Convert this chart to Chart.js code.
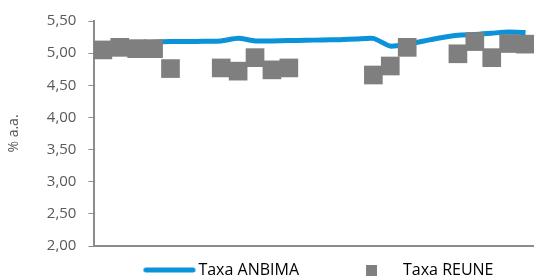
<!DOCTYPE html>
<html>
<head>
<meta charset="utf-8">
<script src="https://cdn.jsdelivr.net/npm/chart.js@4.4.1/dist/chart.umd.min.js"></script>
<style>
  html, body { margin: 0; padding: 0; background: #fff; overflow: hidden; }
  canvas { display: block; }
</style>
</head>
<body>
<canvas id="taxas" width="534" height="280"></canvas>
<script>
// categorias (uma por leilão / data)
const categories = ['1', '2', '3', '4', '5', '6', '7', '8', '9', '10', '11', '12', '13',
	'14', '15', '16', '17', '18', '19', '20', '21', '22', '23', '24', '25', '26'];

// Taxa ANBIMA (% a.a.)
const anbima = [5.14, 5.15, 5.15, 5.17, 5.18, 5.18, 5.185, 5.19, 5.23, 5.19, 5.19, 5.195, 5.20,
	5.205, 5.21, 5.22, 5.23, 5.11, 5.14, 5.19, 5.24, 5.28, 5.29, 5.31, 5.33, 5.32];

// Taxa REUNE (% a.a.) - null onde não houve negócio
const reune = [5.05, 5.09, 5.07, 5.07, 4.76, null, null, 4.77, 4.72, 4.93, 4.74, 4.77, null,
	null, null, null, 4.66, 4.80, 5.09, null, null, 4.99, 5.18, 4.93, 5.15, 5.14];

// eixo y
const yMin = 2.0;
const yMax = 5.5;
const yStep = 0.5;

const blue = '#0A93D8';
const gray = '#7F7F7F';
const textGray = '#595959';
const axisGray = '#8C8C8C';

Chart.defaults.font.family = "'Open Sans', 'DejaVu Sans', sans-serif";
Chart.defaults.color = textGray;

// icones da legenda (a caixa da legenda tem 94px de largura)
const lineIcon = document.createElement('canvas');
lineIcon.width = 110;
lineIcon.height = 6;
const lctx = lineIcon.getContext('2d');
lctx.strokeStyle = blue;
lctx.lineWidth = 5;
lctx.lineCap = 'round';
lctx.beginPath();
lctx.moveTo(57.5, 3);
lctx.lineTo(104.5, 3);
lctx.stroke();

const squareIcon = document.createElement('canvas');
squareIcon.width = 58;
squareIcon.height = 11;
const sctx = squareIcon.getContext('2d');
sctx.fillStyle = gray;
sctx.fillRect(47, 0, 11, 11);

const data = {
	labels: categories,
	datasets: [{
		label: 'Taxa ANBIMA',
		data: anbima,
		borderColor: blue,
		backgroundColor: blue,
		borderWidth: 5,
		pointRadius: 0,
		tension: 0.2,
		order: 2
	},
	{
		label: 'Taxa REUNE',
		data: reune,
		showLine: false,
		pointStyle: 'rect',
		pointRadius: 13.2,
		pointBackgroundColor: gray,
		pointBorderWidth: 0,
		borderColor: gray,
		backgroundColor: gray,
		clip: false,
		order: 1
	}]
};

const config = {
	type: 'line',
	data,
	options: {
		responsive: false,
		animation: false,
		devicePixelRatio: 1,
		layout: {
			autoPadding: false,
			padding: { top: 21, left: 6, right: 0, bottom: -8 }
		},
		plugins: {
			tooltip: { enabled: false },
			legend: {
				position: 'bottom',
				align: 'start',
				fullSize: false,
				labels: {
					usePointStyle: true,
					pointStyleWidth: 94,
					padding: 2,
					color: textGray,
					font: { size: 16 },
					generateLabels: function (chart) {
						return [{
							text: 'Taxa ANBIMA',
							pointStyle: lineIcon,
							strokeStyle: blue,
							fillStyle: blue,
							lineWidth: 0,
							datasetIndex: 0,
							hidden: false
						},
						{
							text: 'Taxa REUNE',
							pointStyle: squareIcon,
							strokeStyle: gray,
							fillStyle: gray,
							lineWidth: 0,
							datasetIndex: 1,
							hidden: false
						}];
					}
				}
			}
		},
		scales: {
			x: {
				offset: true,
				ticks: { display: false },
				grid: { display: false },
				border: { color: axisGray, width: 2 },
				afterFit: (scale) => { scale.height = 14; }
			},
			y: {
				min: yMin,
				max: yMax,
				ticks: {
					stepSize: yStep,
					padding: 12,
					font: { size: 15 },
					color: textGray,
					callback: (v) => v.toFixed(2).replace('.', ',')
				},
				grid: {
					drawOnChartArea: false,
					tickLength: 6,
					tickColor: axisGray
				},
				border: { color: axisGray, width: 2 },
				title: {
					display: true,
					text: '% a.a.',
					font: { size: 14 },
					color: textGray,
					padding: { top: 0, bottom: 12 }
				}
			}
		}
	}
};

const myChart = new Chart(document.getElementById('taxas'), config);
</script>
</body>
</html>
